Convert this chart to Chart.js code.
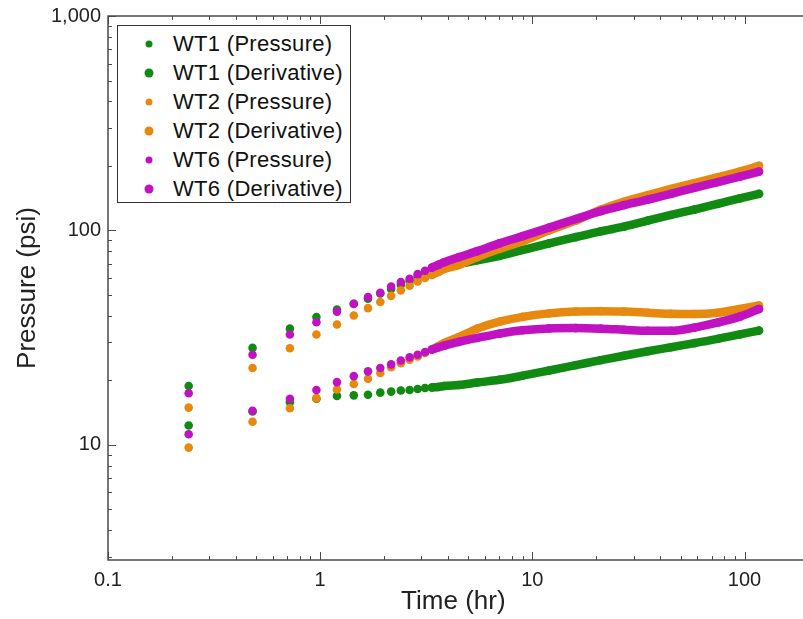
<!DOCTYPE html>
<html lang="en">
<head>
<meta charset="UTF-8">
<title>Pressure vs Time</title>
<script src="https://cdn.jsdelivr.net/npm/chart.js"></script>
<style>
  body { margin: 0; background: #fff; }
  #wrap { position: relative; width: 803px; height: 619px; overflow: hidden; }
  #legend {
    position: absolute; left: 117px; top: 25px; width: 234px; height: 178px;
    border: 1px solid #333; background: #fff; box-sizing: border-box; padding-top: 3px;
    font: 22px "Liberation Sans", Arial, sans-serif; letter-spacing: 0.3px; color: #111;
  }
  .row { position: relative; height: 29px; line-height: 29px; padding-left: 55px; white-space: nowrap; }
  .dot { position: absolute; left: 31px; top: 50%; border-radius: 50%; transform: translate(-50%, -50%); }
</style>
</head>
<body>
<div id="wrap">
  <canvas id="myChart" width="803" height="619"></canvas>
  <div id="legend"></div>
</div>

<script>
  // time axis (hr) shared by all series
  const timeHr = [0.24, 0.48, 0.72, 0.96, 1.2, 1.44, 1.68, 1.92, 2.16, 2.4, 2.64, 2.88, 3.12, 3.36, 3.6, 3.84,
                  4.5, 5.5, 7, 9, 12, 16, 21, 27, 35, 45, 58, 75, 95, 117]

  const wt1Pressure   = [18.8, 28.3, 34.8, 39.4, 42.7, 45.5, 48.0, 50.8, 53.3, 55.7, 57.7, 61.1, 63.4, 65.6, 66.7, 68.0,
                         69.8, 72.5, 76, 81, 87, 93, 99, 104, 111, 118, 125, 133, 141, 148]
  const wt1Derivative = [12.3, 14.3, 15.8, 16.4, 16.9, 17.0, 17.1, 17.5, 17.7, 17.9, 18.0, 18.2, 18.4, 18.5, 18.6, 18.8,
                         19.0, 19.5, 20.1, 21.0, 22.2, 23.5, 24.8, 26.0, 27.3, 28.5, 29.8, 31.2, 32.7, 34.1]
  const wt2Pressure   = [14.9, 22.8, 28.2, 32.7, 36.4, 40.1, 43.4, 46.3, 49.5, 52.5, 55.2, 57.8, 60.0, 62.0, 64.0, 66.0,
                         69, 75, 82, 89, 100, 111, 125, 136, 146, 156, 166, 177, 188, 200]
  const wt2Derivative = [9.7, 12.8, 14.8, 16.5, 18.1, 19.2, 20.3, 21.6, 23.0, 24.0, 24.9, 25.8, 26.8, 27.8, 28.8, 29.8,
                         31.8, 34.8, 37.5, 39.5, 41.0, 41.8, 42.0, 41.8, 41.3, 40.8, 40.7, 41.3, 43.0, 44.6]
  const wt6Pressure   = [17.4, 26.3, 32.7, 37.3, 41.8, 45.4, 48.9, 51.2, 54.7, 57.4, 59.5, 62.5, 64.8, 67.0, 69.0, 71.0,
                         75, 80, 87, 94, 103, 113, 123, 131, 139, 148, 158, 168, 178, 188]
  const wt6Derivative = [11.2, 14.4, 16.4, 18.0, 19.6, 20.9, 22.0, 22.8, 23.7, 24.7, 25.6, 26.3, 27.1, 27.8, 28.4, 29.0,
                         30.2, 31.5, 33.0, 34.2, 34.9, 35.0, 34.8, 34.4, 34.0, 34.0, 35.2, 37.2, 39.6, 43.0]

  const xTickValues = [0.1, 1, 10, 100]
  const xTickLabels = ['0.1', '1', '10', '100']
  const yTickValues = [10, 100, 1000]
  const yTickLabels = ['10', '100', '1,000']

  const green = '#118a11', orange = '#e8890f', magenta = '#c112c1'

  const series = [
    { label: 'WT1 (Pressure)',   values: wt1Pressure,   color: green,   order: 2, legendSize: 7 },
    { label: 'WT1 (Derivative)', values: wt1Derivative, color: green,   order: 2, legendSize: 9 },
    { label: 'WT2 (Pressure)',   values: wt2Pressure,   color: orange,  order: 1, legendSize: 7 },
    { label: 'WT2 (Derivative)', values: wt2Derivative, color: orange,  order: 1, legendSize: 9 },
    { label: 'WT6 (Pressure)',   values: wt6Pressure,   color: magenta, order: 0, legendSize: 7 },
    { label: 'WT6 (Derivative)', values: wt6Derivative, color: magenta, order: 0, legendSize: 9 }
  ]

  Chart.defaults.font.family = '"Liberation Sans", Arial, sans-serif'
  Chart.defaults.color = '#222'

  // the points merge into a solid band once they get dense
  const denseFrom = 3.3

  // inward tick marks + frame
  function logTicks(min, max) {
    let out = []
    for (let e = Math.floor(Math.log10(min)); e <= Math.ceil(Math.log10(max)); e++) {
      for (let m = 1; m <= 9; m++) {
        let v = m * Math.pow(10, e)
        if (v >= min * 0.999 && v <= max) out.push({ v: v, major: m === 1 })
      }
    }
    return out
  }

  const frameTicks = {
    id: 'frameTicks',
    afterDraw(chart) {
      const { ctx, chartArea: a, scales: { x, y } } = chart
      ctx.save()
      ctx.strokeStyle = '#4a4a4a'
      ctx.lineWidth = 1.5
      ctx.beginPath()
      ctx.moveTo(a.right + 10, a.top)
      ctx.lineTo(a.left, a.top)
      ctx.lineTo(a.left, a.bottom)
      ctx.lineTo(a.right + 10, a.bottom)
      ctx.stroke()
      ctx.lineWidth = 1
      ctx.beginPath()
      logTicks(x.min, x.max).forEach(t => {
        let px = Math.round(x.getPixelForValue(t.v)) + 0.5
        let len = t.major ? 8 : 4
        ctx.moveTo(px, a.bottom); ctx.lineTo(px, a.bottom - len)
        ctx.moveTo(px, a.top); ctx.lineTo(px, a.top + len)
      })
      logTicks(y.min, y.max).forEach(t => {
        let py = Math.round(y.getPixelForValue(t.v)) + 0.5
        let len = t.major ? 8 : 4
        ctx.moveTo(a.left, py); ctx.lineTo(a.left + len, py)
      })
      ctx.stroke()
      ctx.restore()
    }
  }

  const ctx = document.getElementById('myChart')

  new Chart(ctx, {
    type: 'scatter',
    data: {
      datasets: series.map(s => ({
        label: s.label,
        data: timeHr.map((t, i) => ({ x: t, y: s.values[i] })),
        order: s.order,
        showLine: true,
        borderColor: s.color,
        backgroundColor: s.color,
        borderWidth: 8.5,
        borderCapStyle: 'round',
        borderJoinStyle: 'round',
        cubicInterpolationMode: 'monotone',
        segment: {
          borderColor: c => c.p0.parsed.x >= denseFrom ? s.color : 'rgba(0,0,0,0)'
        },
        pointRadius: 4.3,
        pointBorderWidth: 0,
        pointBackgroundColor: s.color
      }))
    },
    options: {
      responsive: false,
      animation: false,
      layout: { padding: { top: 16, right: 1, left: 0, bottom: 0 } },
      plugins: { legend: { display: false }, tooltip: { enabled: false } },
      scales: {
        x: {
          type: 'logarithmic', min: 0.1, max: 180,
          afterBuildTicks: s => { s.ticks = xTickValues.map(v => ({ value: v })) },
          afterFit: s => { s.height = 59; s.paddingLeft = 0; s.paddingRight = 0 },
          ticks: {
            autoSkip: false, maxRotation: 0, padding: 8, font: { size: 20 },
            callback: v => { let i = xTickValues.indexOf(v); return i >= 0 ? xTickLabels[i] : '' }
          },
          grid: { display: false, drawTicks: false },
          border: { display: false },
          title: { display: true, text: 'Time (hr)', font: { size: 26 }, padding: { top: 0, bottom: 2 } }
        },
        y: {
          type: 'logarithmic', min: 2.9, max: 1000,
          afterBuildTicks: s => { s.ticks = yTickValues.map(v => ({ value: v })) },
          afterFit: s => { s.width = 108; s.paddingTop = 0; s.paddingBottom = 0 },
          ticks: {
            autoSkip: false, padding: 7, font: { size: 20 },
            callback: v => { let i = yTickValues.indexOf(v); return i >= 0 ? yTickLabels[i] : '' }
          },
          grid: { display: false, drawTicks: false },
          border: { display: false },
          title: { display: true, text: 'Pressure (psi)', font: { size: 26 }, padding: { top: 12, bottom: 0 } }
        }
      }
    },
    plugins: [frameTicks]
  })

  // legend box inside the plot
  const legend = document.getElementById('legend')
  series.forEach(s => {
    let row = document.createElement('div')
    row.className = 'row'
    let dot = document.createElement('span')
    dot.className = 'dot'
    dot.style.width = s.legendSize + 'px'
    dot.style.height = s.legendSize + 'px'
    dot.style.background = s.color
    row.appendChild(dot)
    row.appendChild(document.createTextNode(s.label))
    legend.appendChild(row)
  })
</script>
</body>
</html>
